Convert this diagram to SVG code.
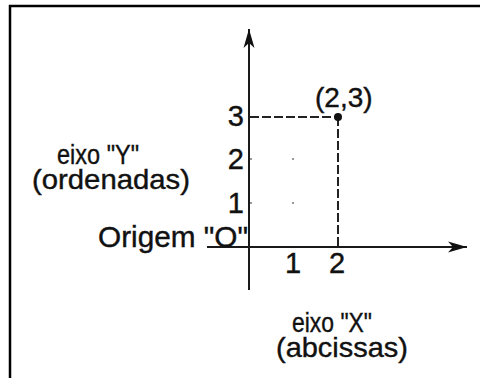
<svg xmlns="http://www.w3.org/2000/svg" width="480" height="378" viewBox="0 0 480 378">
<defs>
<style>
.ax{stroke:#1a1a1a;stroke-width:2;fill:none}
.dash{stroke:#222;stroke-width:2;fill:none;stroke-dasharray:9 3}
.t{font-family:"Liberation Sans",Arial,sans-serif;fill:#111;stroke:#111;stroke-width:0.4;font-size:28px}
.frame{stroke:#000;stroke-width:2.5;fill:none}
</style>
<marker id="arr" markerUnits="userSpaceOnUse" viewBox="-21 -7 22 14" refX="0" refY="0" markerWidth="22" markerHeight="14" orient="auto">
<path d="M0,0 L-19,-5.5 L-14,0 L-19,5.5 Z" fill="#111"/>
</marker>
</defs>
<path class="frame" d="M10,378 V6 H480"/>
<g id="connectors">
<line id="y-axis" class="ax" x1="249" y1="290" x2="249" y2="29" marker-end="url(#arr)"/>
<line id="x-axis" class="ax" x1="207" y1="247" x2="467" y2="247" marker-end="url(#arr)"/>
<line class="dash" x1="250" y1="117" x2="338" y2="117"/>
<line class="dash" x1="338" y1="117" x2="338" y2="246"/>
</g>
<g id="grid-dots" fill="#999">
<rect x="292" y="158" width="2" height="2"/>
<rect x="292" y="202" width="2" height="2"/>
<rect x="250" y="158" width="2" height="2"/>
<rect x="250" y="202" width="2" height="2"/>
</g>
<g id="point">
<circle cx="338" cy="117" r="4" fill="#111"/>
<text class="t" x="315" y="107">(2,3)</text>
</g>
<g id="y-ticks">
<text class="t" x="244" y="126" text-anchor="end" style="font-size:29px">3</text>
<text class="t" x="244" y="169" text-anchor="end" style="font-size:29px">2</text>
<text class="t" x="244" y="213" text-anchor="end" style="font-size:29px">1</text>
</g>
<g id="x-ticks">
<text class="t" x="293" y="273" text-anchor="middle" style="font-size:29px">1</text>
<text class="t" x="337" y="273" text-anchor="middle" style="font-size:29px">2</text>
</g>
<g id="origin">
<text class="t" x="98" y="247" textLength="150" lengthAdjust="spacingAndGlyphs" style="font-size:29px">Origem "O"</text>
</g>
<g id="y-label">
<text class="t" x="57" y="164" textLength="82" lengthAdjust="spacingAndGlyphs">eixo "Y"</text>
<text class="t" x="32" y="189" textLength="158" lengthAdjust="spacingAndGlyphs">(ordenadas)</text>
</g>
<g id="x-label">
<text class="t" x="292" y="332" textLength="80" lengthAdjust="spacingAndGlyphs">eixo "X"</text>
<text class="t" x="276" y="357" textLength="132" lengthAdjust="spacingAndGlyphs">(abcissas)</text>
</g>
</svg>
